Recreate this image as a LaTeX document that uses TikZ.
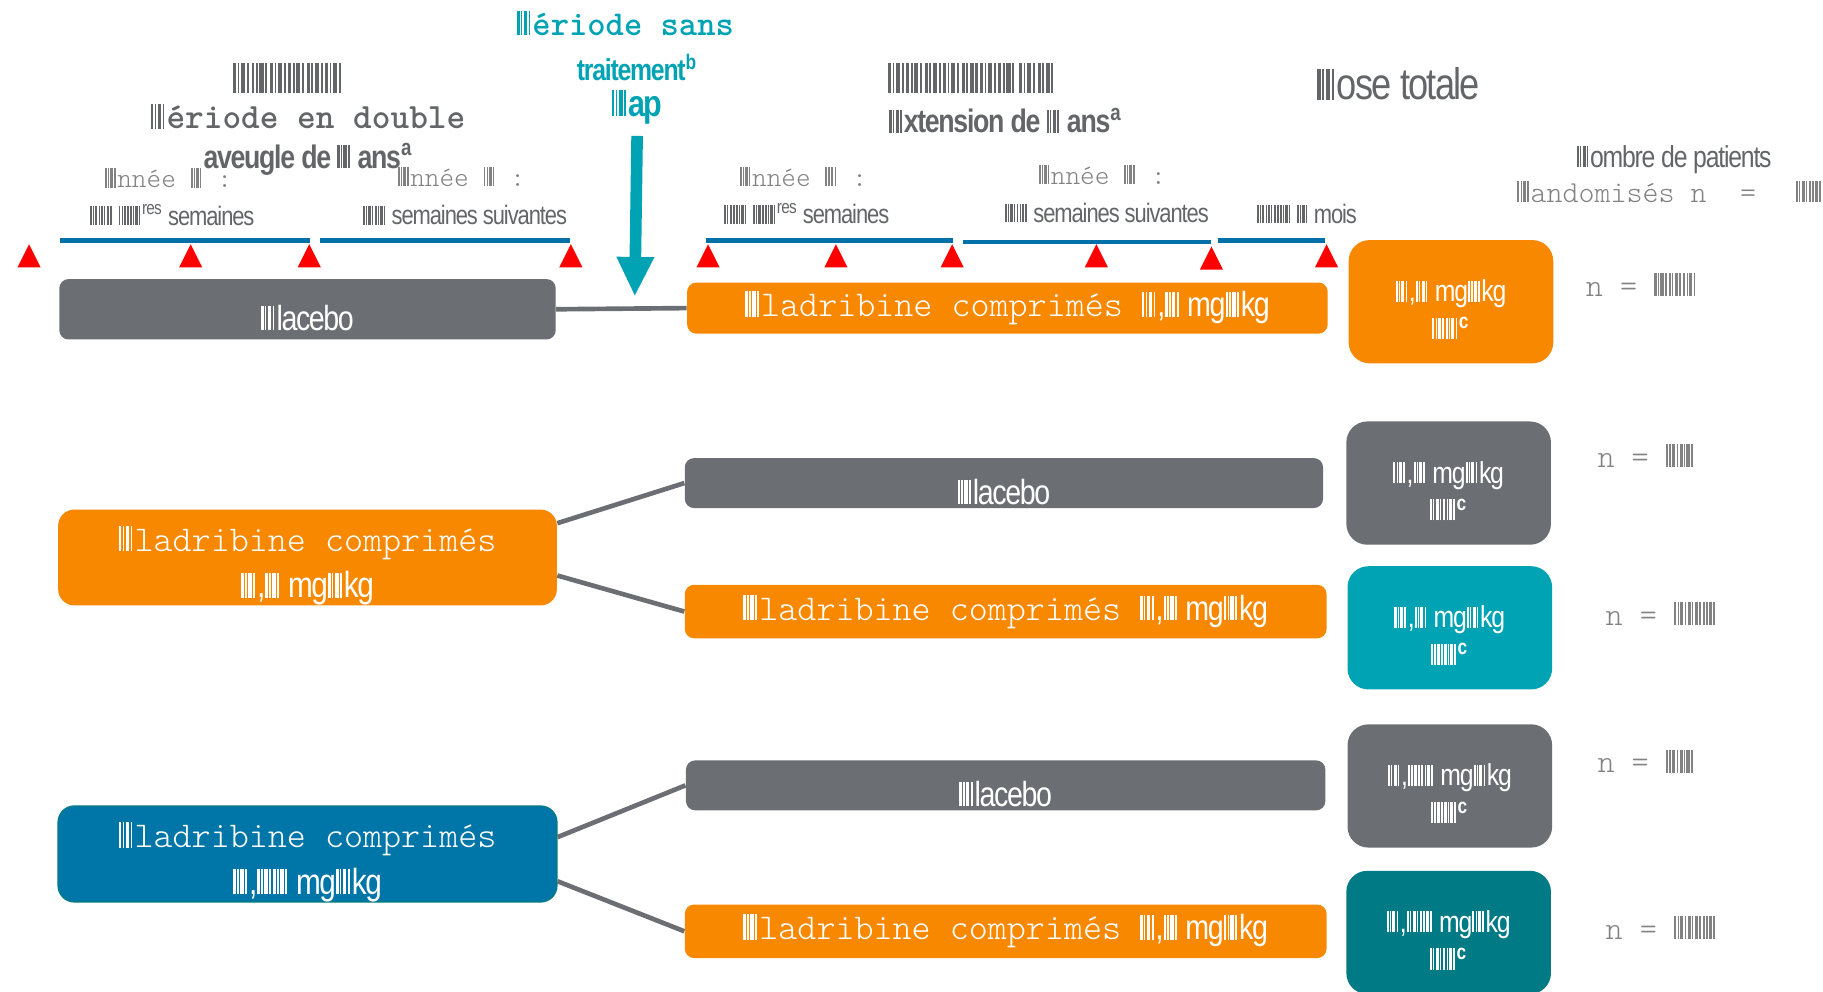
\documentclass[tikz,border=0pt]{standalone}
\usepackage{fontspec}
\usepackage{tikz}
\usetikzlibrary{arrows.meta}

\newfontfamily\nsf[FakeStretch=0.82,LetterSpace=-4]{Liberation Sans}
\newcommand\mono{\ttfamily\fontseries{l}\selectfont}

\definecolor{pgray}{HTML}{6B6E72}
\definecolor{porange}{HTML}{F78800}
\definecolor{pteal}{HTML}{00A3B4}
\definecolor{pdteal}{HTML}{007A84}
\definecolor{pblue}{HTML}{0076A8}
\definecolor{tlblue}{HTML}{0070A8}
\definecolor{pred}{HTML}{FF0000}
\definecolor{tgray}{HTML}{646568}
\definecolor{lgray}{HTML}{828282}

% unreadable glyphs, drawn as thin bars
\newcommand\bk{\rule{.07em}{.7em}\kern.04em\rule{.04em}{.7em}\kern.04em\rule{.1em}{.7em}\kern.04em\rule{.05em}{.7em}\kern.06em}
\newcommand\bks[1]{\foreach\i in {1,...,#1}{\bk}}

\tikzset{
  bar/.style={rounded corners=4pt, inner sep=0pt, text=white, font=\mono\fontsize{15.6}{18}\selectfont},
  graybar/.style={bar, fill=pgray, text height=18pt, text depth=0pt, font=\nsf\fontsize{15}{18}\selectfont},
  orangebar/.style={bar, fill=porange},
  armbox/.style={rounded corners=7pt, inner sep=0pt, text=white, minimum width=214.5pt, minimum height=39.5pt, align=center, font=\fontsize{15.6}{20}\selectfont},
  dosebox/.style={rounded corners=9pt, inner sep=0pt, text=white, minimum width=88pt, minimum height=53pt, align=center, font=\nsf\fontsize{13}{14}\selectfont},
  nlabel/.style={anchor=west, text=lgray, font=\mono\fontsize{14}{16}\selectfont},
  yearlabel/.style={text=lgray, font=\mono\fontsize{12}{14}\selectfont},
  weeklabel/.style={text=tgray, font=\nsf\fontsize{11.5}{13}\selectfont},
  tline/.style={draw=tlblue, line width=2pt},
  link/.style={draw=pgray, line width=2pt},
  gaparrow/.style={draw=pteal, line width=5pt, -{Triangle[width=15pt,length=17pt]}},
}

\begin{document}
\begin{tikzpicture}[x=0.5pt,y=-0.5pt]
\useasboundingbox (0,0) rectangle (1568,853);

% headings
\node[text=tgray, font=\fontsize{18}{18}\selectfont] (bcode1) at (248,67) {\bks{6}};
\node[text=tgray, font=\ttfamily\bfseries\fontsize{15.3}{18}\selectfont] (dbl1) at (265,100) {\bk ériode en double};
\node[text=tgray, font=\nsf\bfseries\fontsize{14}{16}\selectfont] (dbl2) at (265,137) {aveugle de \bk{} ans\textsuperscript{a}};
\node[text=pteal, font=\ttfamily\bfseries\fontsize{15}{18}\selectfont] (gap1) at (538,20) {\bk ériode sans};
\node[text=pteal, font=\nsf\bfseries\fontsize{13}{15}\selectfont] (gap2) at (548,58) {traitement\textsuperscript{b}};
\node[text=pteal, font=\nsf\bfseries\fontsize{16}{18}\selectfont, inner sep=0pt] (gap) at (548,92) {\bk ap};
\node[text=tgray, font=\fontsize{18}{18}\selectfont] (bcode2) at (836,67) {\bks{7}\hspace{1pt}\bks{2}};
\node[text=tgray, font=\nsf\bfseries\fontsize{14}{16}\selectfont] (ext) at (865,104) {\bk xtension de \bk{} ans\textsuperscript{a}};
\node[text=tgray, font=\nsf\fontsize{19}{20}\selectfont] (dose) at (1203,72) {\bk ose totale};
\node[text=tgray, font=\nsf\fontsize{13}{15}\selectfont] (npat) at (1440,137) {\bk ombre de patients};
\node[nlabel, font=\mono\fontsize{13.1}{15}\selectfont] (nrand) at (1298,165) {\bk andomisés n\hspace{1.1em}=\hspace{1.3em}\bks{2}};

% timeline
\node[yearlabel] (yr1) at (145,153) {\bk nnée \bk{} :};
\node[yearlabel] (yr2) at (397,152) {\bk nnée \bk{} :};
\node[yearlabel] (yr3) at (691,152) {\bk nnée \bk{} :};
\node[yearlabel] (yr4) at (948,150) {\bk nnée \bk{} :};
\node[weeklabel] (wk1) at (148,185) {\bks{2}\hspace{.2em}\bks{2}\textsuperscript{res} semaines};
\node[weeklabel] (wk2) at (400,185) {\bks{2} semaines suivantes};
\node[weeklabel] (wk3) at (694,184) {\bks{2}\hspace{.2em}\bks{2}\textsuperscript{res} semaines};
\node[weeklabel] (wk4) at (952,183) {\bks{2} semaines suivantes};
\node[weeklabel] (wk5) at (1124,184) {\bks{3} \bk{} mois};
\draw[tline] (52,207) -- (267,207);
\draw[tline] (275,207) -- (490,207);
\draw[tline] (607,207) -- (820,207);
\draw[tline] (828,208) -- (1042,208);
\draw[tline] (1048,207) -- (1140,207);
\fill[pred] (15,230) -- (35,230) -- (25,210) -- cycle;
\fill[pred] (154,230) -- (174,230) -- (164,210) -- cycle;
\fill[pred] (256,230) -- (276,230) -- (266,210) -- cycle;
\fill[pred] (481,230) -- (501,230) -- (491,210) -- cycle;
\fill[pred] (599,230) -- (619,230) -- (609,210) -- cycle;
\fill[pred] (709,230) -- (729,230) -- (719,210) -- cycle;
\fill[pred] (809,230) -- (829,230) -- (819,210) -- cycle;
\fill[pred] (933,230) -- (953,230) -- (943,210) -- cycle;
\fill[pred] (1032,232) -- (1052,232) -- (1042,212) -- cycle;
\fill[pred] (1131,230) -- (1151,230) -- (1141,210) -- cycle;
\coordinate (gapend) at (546,255);
\draw[gaparrow] ([yshift=-5pt]gap.south) -- (gapend);

% arm 1
\node[graybar, minimum width=213.5pt, minimum height=26pt] (plac1) at (264.5,266) {\bk lacebo};
\node[orangebar, minimum width=275.5pt, minimum height=22pt] (clad1) at (866.5,265) {\bk ladribine comprimés {\nsf\fontsize{15}{18}\selectfont\bk,\bk{} mg\bk kg}};
\draw[link] (plac1.east) -- (clad1.west);
\node[dosebox, fill=porange] (dose1) at (1248,259.5) {\rule{0pt}{16pt}\bk,\bk{} mg\bk kg\\[2pt]\bks{2}\textsuperscript{\bfseries c}};
\node[nlabel] (n1) at (1357,245) {n = \bks{3}};

% arm 2
\node[armbox, fill=porange] (clad2) at (264.5,479.5) {\rule{0pt}{18pt}{\mono\bk ladribine comprimés}\\{\nsf\bk,\bk{} mg\bk kg}};
\node[graybar, minimum width=274.5pt, minimum height=21.5pt] (plac2) at (863.5,415.5) {\bk lacebo};
\node[orangebar, minimum width=276pt, minimum height=23pt] (clad3) at (865,526) {\bk ladribine comprimés {\nsf\fontsize{15}{18}\selectfont\bk,\bk{} mg\bk kg}};
\draw[link] ([yshift=14.75pt]clad2.east) -- (plac2.west);
\draw[link] ([yshift=-7.75pt]clad2.east) -- (clad3.west);
\node[dosebox, fill=pgray] (dose2) at (1246,415.5) {\rule{0pt}{16pt}\bk,\bk{} mg\bk kg\\[2pt]\bks{2}\textsuperscript{\bfseries c}};
\node[dosebox, fill=pteal] (dose3) at (1247,540) {\rule{0pt}{16pt}\bk,\bk{} mg\bk kg\\[2pt]\bks{2}\textsuperscript{\bfseries c}};
\node[nlabel] (n2) at (1367,392) {n = \bks{2}};
\node[nlabel] (n3) at (1374,528) {n = \bks{3}};

% arm 3
\node[armbox, fill=pblue, draw=pdteal, line width=0.6pt] (clad4) at (264.5,734.5) {\rule{0pt}{18pt}{\mono\bk ladribine comprimés}\\{\nsf\bk,\bks{2} mg\bk kg}};
\node[graybar, minimum width=275pt, minimum height=21.5pt] (plac3) at (865,675.5) {\bk lacebo};
\node[orangebar, minimum width=276pt, minimum height=23pt] (clad5) at (865,801) {\bk ladribine comprimés {\nsf\fontsize{15}{18}\selectfont\bk,\bk{} mg\bk kg}};
\draw[link] ([yshift=7.25pt]clad4.east) -- (plac3.west);
\draw[link] ([yshift=-11.75pt]clad4.east) -- (clad5.west);
\node[dosebox, fill=pgray] (dose4) at (1247,676) {\rule{0pt}{16pt}\bk,\bks{2} mg\bk kg\\[2pt]\bks{2}\textsuperscript{\bfseries c}};
\node[dosebox, fill=pdteal] (dose5) at (1246,802) {\rule{0pt}{16pt}\bk,\bks{2} mg\bk kg\\[2pt]\bks{2}\textsuperscript{\bfseries c}};
\node[nlabel] (n4) at (1367,655) {n = \bks{2}};
\node[nlabel] (n5) at (1374,798) {n = \bks{3}};
\end{tikzpicture}
\end{document}
